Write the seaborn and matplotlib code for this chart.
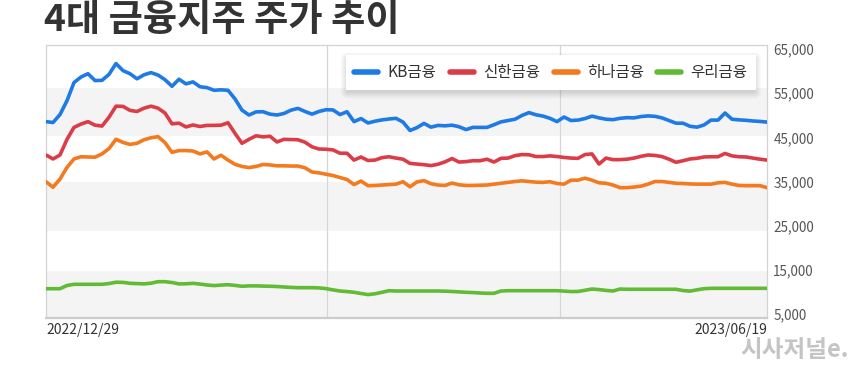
import numpy as np
import pandas as pd
import matplotlib
matplotlib.use("Agg")
import matplotlib.pyplot as plt
from matplotlib.patches import FancyBboxPatch
from matplotlib.transforms import IdentityTransform
import seaborn as sns

# ---------------- data ----------------
companies = ["KB금융", "신한금융", "하나금융", "우리금융"]
colors = ["#1e7be6", "#dc3c48", "#f47a20", "#62bb35"]
date_labels = ["2022/12/29", "2023/06/19"]

kb = [48550, 48350, 50150, 53300, 57400, 58650, 59400, 57850, 57900, 59250,
      61700, 60100, 59400, 58250, 59150, 59650, 59100, 58050, 56550, 58150,
      57100, 57550, 56450, 56250, 55650, 55750, 55650, 53700, 51150, 50050,
      50750, 50800, 50250, 50050, 50400, 51150, 51550, 50850, 50250, 50850,
      51250, 51200, 50150, 50800, 48550, 49250, 48250, 48650, 48950, 49150,
      49300, 48450, 46550, 47200, 48150, 47300, 47700, 47600, 47750, 47400,
      46750, 47250, 47250, 47250, 47850, 48500, 48800, 49100, 49950, 50600,
      50100, 49800, 49300, 48550, 49600, 48800, 48900, 49250, 49800, 49400,
      49100, 49000, 49300, 49450, 49400, 49700, 49850, 49750, 49400, 48800,
      48200, 48200, 47500, 47300, 47800, 48900, 48900, 50500, 49100, 48950,
      48850, 48700, 48600, 48450]

shinhan = [41000, 40100, 41000, 44550, 47250, 48000, 48550, 47750, 47550, 49550,
           52050, 52000, 51100, 50850, 51600, 52050, 51600, 50500, 48050, 48200,
           47350, 47800, 47450, 47700, 47700, 47750, 48300, 45900, 43650, 44550,
           45350, 45100, 45250, 43950, 44550, 44500, 44450, 43900, 42850, 42350,
           42300, 42150, 41400, 41400, 39850, 40550, 39750, 39850, 40400, 40600,
           40300, 40050, 39100, 38950, 38800, 38600, 38900, 39450, 40200, 39400,
           39500, 39700, 39700, 40050, 39400, 40250, 40300, 40850, 41100, 41050,
           40650, 40650, 40800, 40650, 40450, 40300, 40250, 41100, 41250, 38950,
           40300, 39950, 39950, 40050, 40300, 40700, 41000, 40900, 40650, 40050,
           39350, 39700, 40100, 40250, 40550, 40600, 40600, 41350, 40800, 40600,
           40550, 40300, 40050, 39850]

hana = [34950, 33700, 35550, 38200, 40100, 40600, 40550, 40500, 41250, 42450,
        44550, 43850, 43400, 43650, 44450, 44900, 45150, 43800, 41600, 42000,
        42000, 41900, 41250, 41700, 40100, 40950, 39850, 38900, 38400, 38150,
        38400, 38850, 38750, 38550, 38550, 38500, 38500, 38100, 37150, 36950,
        36650, 36350, 35900, 35450, 34300, 35100, 34050, 34100, 34200, 34300,
        34400, 34950, 33800, 34900, 35200, 34500, 34200, 34100, 34650, 34250,
        34100, 34100, 34150, 34200, 34400, 34600, 34800, 35000, 35150, 35000,
        34850, 34800, 34950, 34550, 34400, 35300, 35300, 35750, 35300, 34700,
        34600, 34200, 33600, 33600, 33750, 33950, 34400, 35000, 35000, 34800,
        34600, 34550, 34450, 34400, 34400, 34400, 34700, 34800, 34400, 34100,
        34050, 34050, 34050, 33600]

woori = [10730, 10730, 10730, 11460, 11730, 11730, 11730, 11730, 11730, 11900,
         12200, 12160, 11950, 11890, 11820, 11980, 12320, 12320, 12130, 11820,
         11840, 11950, 11780, 11570, 11440, 11550, 11640, 11480, 11280, 11370,
         11370, 11320, 11280, 11230, 11120, 11030, 10960, 10960, 10960, 10910,
         10750, 10460, 10210, 10080, 9920, 9650, 9400, 9580, 9920, 10280,
         10210, 10210, 10210, 10210, 10210, 10210, 10210, 10170, 10100, 10010,
         9920, 9850, 9760, 9690, 9690, 10210, 10280, 10280, 10280, 10280,
         10280, 10280, 10280, 10280, 10190, 10080, 10100, 10370, 10660, 10530,
         10350, 10210, 10660, 10600, 10600, 10600, 10600, 10600, 10600, 10600,
         10600, 10320, 10190, 10480, 10730, 10820, 10820, 10820, 10820, 10820,
         10820, 10820, 10820, 10820]

y_ticks = [5000, 15000, 25000, 35000, 45000, 55000, 65000]

# ---------------- style ----------------
sns.set_theme(style="white")
plt.rcParams["font.family"] = ["Noto Sans CJK KR", "DejaVu Sans"]

series = [kb, shinhan, hana, woori]
df = pd.concat(
    [pd.DataFrame({"idx": np.arange(len(v)), "price": v, "company": name})
     for name, v in zip(companies, series)],
    ignore_index=True,
)
n = len(kb)

W, H = 860, 374
fig = plt.figure(figsize=(W / 100, H / 100), dpi=100)
ax = fig.add_axes([46 / W, (H - 318) / H, 721 / W, 273 / H])

# alternating background bands
for lo, hi in [(45300, 56240), (23860, 34960), (4100, 14810)]:
    ax.axhspan(lo, hi, color="#f4f4f4", lw=0, zorder=0)

# vertical grid lines
for gx in [40.2, 73.4]:
    ax.axvline(gx, color="#d6d6d6", lw=0.9, zorder=0.5)

sns.lineplot(data=df, x="idx", y="price", hue="company", hue_order=companies,
             palette=colors, linewidth=2.6, estimator=None, ax=ax, zorder=3)

ax.set_xlim(0, n - 1)
ax.set_ylim(4100, 65900)
ax.set_xlabel("")
ax.set_ylabel("")

ax.yaxis.tick_right()
ax.set_yticks(y_ticks)
ax.set_yticklabels([f"{v:,}" for v in y_ticks])
ax.tick_params(axis="y", length=0, pad=4.5, labelsize=9.7, labelcolor="#555555")

ax.set_xticks([0, n - 1])
ax.set_xticklabels(date_labels)
xl = ax.get_xticklabels()
xl[0].set_horizontalalignment("left")
xl[1].set_horizontalalignment("right")
ax.tick_params(axis="x", length=0, pad=3.5, labelsize=10, labelcolor="#333333")

for side in ["left", "right", "top"]:
    ax.spines[side].set_color("#d3d3d3")
    ax.spines[side].set_linewidth(0.9)
ax.spines["bottom"].set_color("#cccccc")
ax.spines["bottom"].set_linewidth(1.6)

handles, labels = ax.get_legend_handles_labels()
leg = ax.legend(handles, labels, ncol=4, loc="center",
                bbox_to_anchor=(551 / W, 1 - 72.5 / H), bbox_transform=fig.transFigure,
                frameon=True, fancybox=False, facecolor="white", edgecolor="none",
                framealpha=1, fontsize=11.2, handlelength=1.55, handletextpad=0.6,
                columnspacing=0.85, borderpad=0.55)
leg.set_zorder(10)
for line in leg.get_lines():
    line.set_linewidth(4)
for t in leg.get_texts():
    t.set_color("#333333")

fig.text(44 / W, 1 - 20 / H, "4대 금융지주 주가 추이", fontsize=26.8, fontweight="heavy",
         color="#333333", ha="left", va="center")
fig.text(849 / W, 1 - 350 / H, "시사저널e.", fontsize=17, fontweight="heavy",
         color="#c4c4c4", ha="right", va="center")

# soft drop shadow behind the legend box (drawn inside the axes, below the legend)
fig.canvas.draw()
bb = leg.get_frame().get_window_extent()
for k in range(1, 8):
    sh = FancyBboxPatch((bb.x0 - k + 2, bb.y0 - k - 2), bb.width + 2 * k - 4, bb.height + 2 * k - 2,
                        boxstyle="round,pad=0,rounding_size=%d" % k,
                        transform=IdentityTransform(), facecolor="#000000",
                        edgecolor="none", alpha=0.02, zorder=9, clip_on=False)
    ax.add_patch(sh)

fig.savefig("out.png", dpi=100)
